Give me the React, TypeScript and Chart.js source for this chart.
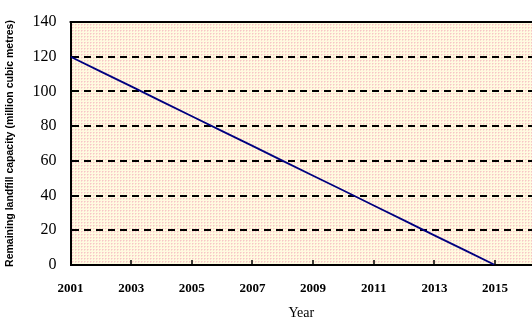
import React, { useEffect, useRef } from "react";
import { Chart, registerables } from "chart.js";

Chart.register(...registerables);

const years = [2001, 2002, 2003, 2004, 2005, 2006, 2007, 2008, 2009, 2010, 2011, 2012, 2013, 2014, 2015];
const capacity = [120, 111.4, 102.9, 94.3, 85.7, 77.1, 68.6, 60, 51.4, 42.9, 34.3, 25.7, 17.1, 8.6, 0];
const xTickYears = [2001, 2003, 2005, 2007, 2009, 2011, 2013, 2015];
const yTicks = [0, 20, 40, 60, 80, 100, 120, 140];
const xTitle = "Year";
const yTitle = "Remaining landfill capacity (million cubic metres)";

function makePattern(): CanvasPattern | string {
  const c = document.createElement("canvas");
  c.width = 3;
  c.height = 3;
  const g = c.getContext("2d");
  if (!g) return "#fcefd9";
  g.fillStyle = "#fffae0";
  g.fillRect(0, 0, 3, 3);
  g.fillStyle = "#f7c6c6";
  g.fillRect(0, 0, 1, 1);
  g.fillStyle = "#fbdcd2";
  g.fillRect(1, 0, 1, 1);
  g.fillRect(0, 1, 1, 1);
  const p = g.createPattern(c, "repeat");
  return p || "#fcefd9";
}

const areaPlugin = {
  id: "areaDeco",
  beforeDraw(chart: any) {
    const { ctx, chartArea } = chart;
    ctx.save();
    ctx.fillStyle = makePattern();
    ctx.fillRect(chartArea.left, chartArea.top, chartArea.right - chartArea.left, chartArea.bottom - chartArea.top);
    ctx.restore();
  },
  afterDraw(chart: any) {
    const { ctx, chartArea, scales } = chart;
    ctx.save();
    ctx.strokeStyle = "#000";
    ctx.lineWidth = 2;
    ctx.beginPath();
    ctx.moveTo(chartArea.left - 1, chartArea.top);
    ctx.lineTo(chartArea.right, chartArea.top);
    ctx.stroke();
    ctx.lineWidth = 1.5;
    for (const v of xTickYears) {
      const x = Math.round(scales.x.getPixelForValue(v));
      if (v === xTickYears[0]) continue;
      ctx.beginPath();
      ctx.moveTo(x, chartArea.bottom);
      ctx.lineTo(x, chartArea.bottom - 5);
      ctx.stroke();
    }
    ctx.restore();
  },
};

export default function App() {
  const ref = useRef<HTMLCanvasElement | null>(null);
  useEffect(() => {
    if (!ref.current) return;
    const chart = new Chart(ref.current, {
      type: "line",
      data: {
        datasets: [
          {
            data: years.map((y, i) => ({ x: y, y: capacity[i] })),
            borderColor: "#00007f",
            borderWidth: 1.8,
            pointRadius: 0,
            tension: 0,
            fill: false,
          },
        ],
      },
      options: {
        animation: false,
        responsive: true,
        maintainAspectRatio: false,
        layout: { padding: { top: 3, right: 0, left: 2, bottom: -2 } },
        plugins: { legend: { display: false }, tooltip: { enabled: false } },
        scales: {
          x: {
            type: "linear",
            min: 2001,
            max: 2016.22,
            afterBuildTicks: (s: any) => {
              s.ticks = xTickYears.map((v) => ({ value: v }));
            },
            ticks: {
              color: "#000",
              font: { family: "Liberation Serif", size: 13, weight: "bold", lineHeight: 1 },
              padding: 17,
              maxRotation: 0,
              autoSkip: false,
              callback: (v: any) => String(v),
            },
            grid: { display: false, drawTicks: false },
            border: { display: true, color: "#000", width: 2 },
            title: {
              display: true,
              text: xTitle,
              color: "#000",
              font: { family: "Liberation Serif", size: 14, lineHeight: 1 },
              padding: { top: -6, bottom: 0 },
            },
          },
          y: {
            min: 0,
            max: 140,
            afterBuildTicks: (s: any) => {
              s.ticks = yTicks.map((v) => ({ value: v }));
            },
            ticks: {
              color: "#000",
              font: { family: "Liberation Serif", size: 16, lineHeight: 1 },
              padding: 14,
            },
            grid: {
              drawTicks: false,
              color: (c: any) => (c.tick && c.tick.value > 0 && c.tick.value < 140 ? "#000" : "rgba(0,0,0,0)"),
              lineWidth: 2,
            },
            border: { display: true, color: "#000", width: 2, dash: [7, 5] },
            title: {
              display: true,
              text: yTitle,
              color: "#000",
              font: { family: "Liberation Sans", size: 10.5, weight: "bold" },
              padding: { top: 2, bottom: 2 },
            },
          },
        },
      },
      plugins: [areaPlugin],
    } as any);
    return () => chart.destroy();
  }, []);
  return (
    <div style={{ position: "absolute", left: 0, top: 0, width: 532, height: 318, overflow: "hidden", background: "#fff" }}>
      <canvas ref={ref} />
    </div>
  );
}
